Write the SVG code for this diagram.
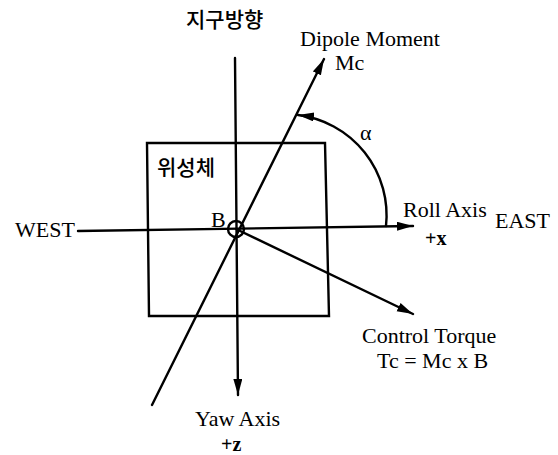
<svg xmlns="http://www.w3.org/2000/svg" width="558" height="455" viewBox="0 0 558 455">
<style>
.ln{fill:none;stroke:#000;stroke-width:2.4;stroke-linecap:round}
.t{font-family:"Liberation Serif","Times New Roman",serif;font-size:22px;fill:#000}
.b{font-weight:bold;font-size:20px}
.k{font-family:"Noto Sans CJK KR","Noto Sans",sans-serif;font-size:21px;font-weight:500;fill:#000}
</style>
<defs>
<marker id="ah" markerUnits="userSpaceOnUse" markerWidth="18" markerHeight="10" refX="16" refY="4.5" orient="auto">
<path d="M0,0 L16,4.5 L0,9 Z" fill="#000"/>
</marker>
</defs>
<rect width="558" height="455" fill="#fff"/>
<g id="satellite">
<path class="ln" d="M147,143 L325,143 L329,316 L149,316 Z"/>
<text class="k" x="157" y="175">위성체</text>
</g>
<g id="connectors">
<line class="ln" x1="78" y1="231" x2="413" y2="226" marker-end="url(#ah)"/>
<line class="ln" x1="235" y1="58" x2="238" y2="395" marker-end="url(#ah)"/>
<line class="ln" x1="152" y1="405" x2="324" y2="59" marker-end="url(#ah)"/>
<line class="ln" x1="236" y1="229" x2="413" y2="314" marker-end="url(#ah)"/>
<path class="ln" d="M386,226 A101,101 0 0 0 298,115" marker-end="url(#ah)"/>
<circle class="ln" cx="236" cy="229" r="8"/>
</g>
<g id="earth"><text class="k" x="186" y="27">지구방향</text></g>
<g id="dipole"><text class="t" x="300" y="46">Dipole Moment</text><text class="t" x="335" y="70">Mc</text></g>
<g id="alpha"><text class="t" x="360" y="140">α</text></g>
<g id="west"><text class="t" x="15" y="237">WEST</text></g>
<g id="b"><text class="t" x="211" y="227">B</text></g>
<g id="roll"><text class="t" x="403" y="217">Roll Axis</text><text class="t b" x="425" y="245">+x</text></g>
<g id="east"><text class="t" x="495" y="228">EAST</text></g>
<g id="torque"><text class="t" x="362" y="343">Control Torque</text><text class="t" x="377" y="368">Tc = Mc x B</text></g>
<g id="yaw"><text class="t" x="195" y="426">Yaw Axis</text><text class="t b" x="221" y="451">+z</text></g>
</svg>
